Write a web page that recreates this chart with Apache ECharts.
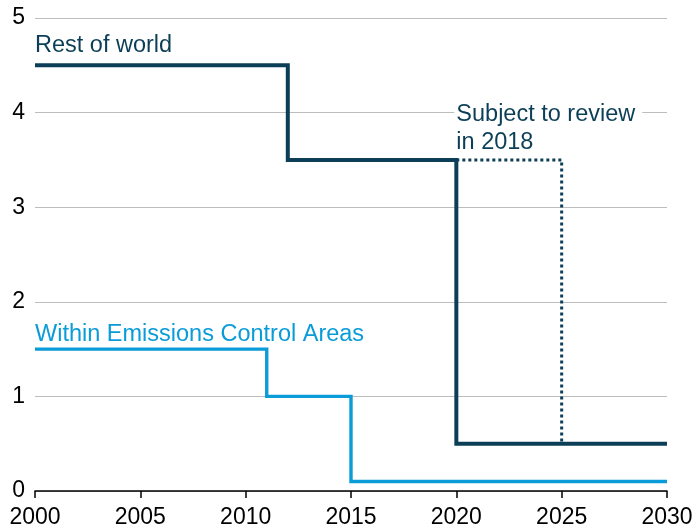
<!DOCTYPE html>
<html><head><meta charset="utf-8">
<script src="https://cdn.jsdelivr.net/npm/echarts@6/dist/echarts.min.js"></script>
<style>html,body{margin:0;padding:0;background:#fff}#c{width:697px;height:529px}</style>
</head><body><div id="c"></div>
<script>
const xTicks = [2000, 2005, 2010, 2015, 2020, 2025, 2030];
const yTicks = [0, 1, 2, 3, 4, 5];
// Sulphur cap steps: [year, level]
const restOfWorld = [[2000, 4.5], [2012, 4.5], [2012, 3.5], [2020, 3.5], [2020, 0.5], [2030, 0.5]];
const subjectToReview = [[2020, 3.5], [2025, 3.5], [2025, 0.5]];
const withinECA = [[2000, 1.5], [2011, 1.5], [2011, 1.0], [2015, 1.0], [2015, 0.1], [2030, 0.1]];
const labelsText = ['Rest of world', 'Subject to review\nin 2018', 'Within Emissions Control Areas'];
const labelsPos = [[2000, 4.705], [2020, 3.83], [2000, 1.65]];

const dark = '#0c3f57';
const light = '#0a9bd9';
const font = 'Liberation Sans, Arial, sans-serif';

const chart = echarts.init(document.getElementById('c'), null, {renderer: 'canvas'});
const labelStyles = [
  {color: dark},
  {color: dark, backgroundColor: '#fff', padding: [0, 7, 0, 2], offset: [-2, 0]},
  {color: light}
];
chart.setOption({
  animation: false,
  grid: {left: 35, right: 30, top: 18, bottom: 37},
  xAxis: {
    type: 'value', min: 2000, max: 2030, interval: 5,
    axisLine: {show: true, lineStyle: {color: '#000', width: 1.5}},
    axisTick: {show: true, length: 7, lineStyle: {color: '#000', width: 1.5}},
    axisLabel: {fontSize: 23, color: '#000', fontFamily: font, margin: 15, formatter: v => String(v)},
    splitLine: {show: false}
  },
  yAxis: {
    type: 'value', min: 0, max: 5, interval: 1,
    axisLine: {show: false}, axisTick: {show: false},
    axisLabel: {fontSize: 23, color: '#000', fontFamily: font, margin: 10},
    splitLine: {show: true, lineStyle: {color: '#bdbdbd', width: 1}}
  },
  series: [
    {type: 'line', data: withinECA, symbol: 'none', lineStyle: {color: light, width: 3.4, cap: 'butt', join: 'miter'}, z: 3},
    {type: 'line', data: subjectToReview, symbol: 'none', lineStyle: {color: dark, width: 3, type: [3, 3], cap: 'butt'}, z: 3},
    {type: 'line', data: restOfWorld, symbol: 'none', lineStyle: {color: dark, width: 4, cap: 'butt', join: 'miter'}, z: 4},
    {
      type: 'scatter', symbolSize: 0, z: 5, silent: true,
      itemStyle: {color: '#fff', opacity: 1},
      data: labelsPos.map((p, i) => ({
        value: p, name: labelsText[i],
        label: Object.assign({
          show: true, position: 'right', distance: 0, formatter: labelsText[i],
          fontSize: 23.5, fontFamily: font, lineHeight: 28, opacity: 1
        }, labelStyles[i])
      }))
    }
  ]
});
</script></body></html>
